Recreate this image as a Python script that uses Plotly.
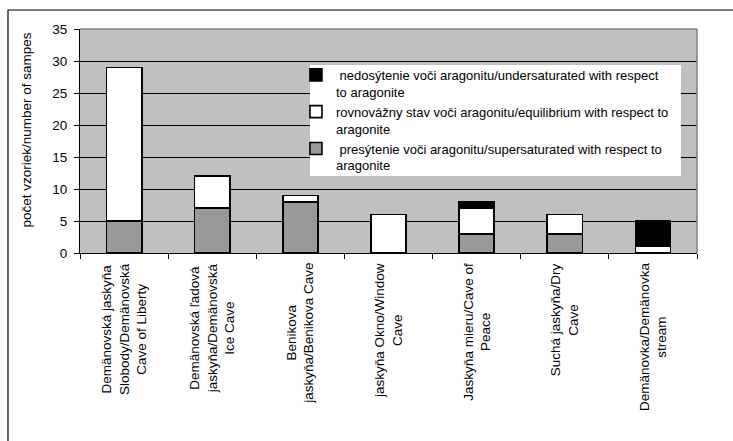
import plotly.graph_objects as go

# Sampling sites (x categories) and sample counts per saturation state
sites = [
    "Demänovská jaskyňa<br>Slobody/Demänovská<br>Cave of Liberty",
    "Demänovská ľadová<br>jaskyňa/Demänovská<br>Ice Cave",
    "Benikova<br>jaskyňa/Benikova Cave",
    "jaskyňa Okno/Window<br>Cave",
    "Jaskyňa mieru/Cave of<br>Peace",
    "Suchá jaskyňa/Dry<br>Cave",
    "Demänovka/Demänovka<br>stream",
]
supersaturated = [5, 7, 8, 0, 3, 3, 0]
equilibrium = [24, 5, 1, 6, 4, 3, 1]
undersaturated = [0, 0, 0, 0, 1, 0, 4]

series_names = [
    " presýtenie voči aragonitu/supersaturated with respect to<br>aragonite",
    "rovnovážny stav voči aragonitu/equilibrium with respect to<br>aragonite",
    " nedosýtenie voči aragonitu/undersaturated with respect<br>to aragonite",
]
y_ticks = [0, 5, 10, 15, 20, 25, 30, 35]
y_title = "počet vzoriek/number of sampes"

FONT = "Arial, Liberation Sans, sans-serif"
FS = 13.5

fig = go.Figure()
for name, vals, color in zip(series_names,
                             [supersaturated, equilibrium, undersaturated],
                             ["#999999", "#ffffff", "#000000"]):
    fig.add_trace(go.Bar(
        x=sites, y=vals, name=name,
        marker=dict(color=color, line=dict(color="#000000", width=1.6)),
    ))

# Centered, rotated category labels below the axis
for s in sites:
    fig.add_annotation(
        x=s, y=0, xref="x", yref="paper", text=s, textangle=-90,
        xanchor="center", yanchor="top", yshift=-8, align="center",
        showarrow=False, font=dict(family=FONT, size=FS, color="#000000"),
    )

# Value-axis title
fig.add_annotation(
    x=-0.0859, y=0.551, xref="paper", yref="paper", text=y_title,
    textangle=-90, xanchor="center", yanchor="middle", showarrow=False,
    font=dict(family=FONT, size=FS, color="#000000"),
)

shapes = [
    # white panel behind the legend
    dict(type="rect", xref="paper", yref="paper", x0=0.3728, x1=0.974,
         y0=0.344, y1=0.839, fillcolor="#ffffff", line=dict(width=0),
         layer="above"),
    # grey frame on the top and right of the plot area
    dict(type="line", xref="paper", yref="paper", x0=0, x1=1, y0=1, y1=1,
         line=dict(color="#808080", width=1.5)),
    dict(type="line", xref="paper", yref="paper", x0=1, x1=1, y0=0, y1=1,
         line=dict(color="#808080", width=1.5)),
    # outer chart border
    dict(type="rect", xref="paper", yref="paper", x0=-0.1167, x1=1.2,
         y0=-1.2, y1=1.0848, line=dict(color="#000000", width=1.2),
         fillcolor="rgba(0,0,0,0)"),
]

fig.update_layout(
    width=733, height=441,
    margin=dict(l=80, r=36, t=29, b=188),
    barmode="stack", bargap=0.6,
    plot_bgcolor="#c0c0c0", paper_bgcolor="#ffffff",
    font=dict(family=FONT, size=FS, color="#000000"),
    showlegend=True,
    legend=dict(
        x=0.350, y=0.862, xanchor="left", yanchor="top",
        bgcolor="rgba(0,0,0,0)", borderwidth=0, valign="top",
        font=dict(family=FONT, size=13, color="#000000"),
        tracegroupgap=0,
    ),
    shapes=shapes,
)
fig.update_xaxes(
    type="category", showticklabels=False, tickson="boundaries",
    ticks="outside", ticklen=5, tickcolor="#000000",
    showline=True, linecolor="#000000", linewidth=1.2,
    showgrid=False, zeroline=False,
)
fig.update_yaxes(
    range=[0, 35], tickvals=y_ticks, ticks="outside", ticklen=5,
    tickcolor="#000000", showline=True, linecolor="#000000", linewidth=1.2,
    showgrid=True, gridcolor="#000000", gridwidth=1, zeroline=False,
    ticklabelstandoff=4,
)

fig.write_html("out.html")
